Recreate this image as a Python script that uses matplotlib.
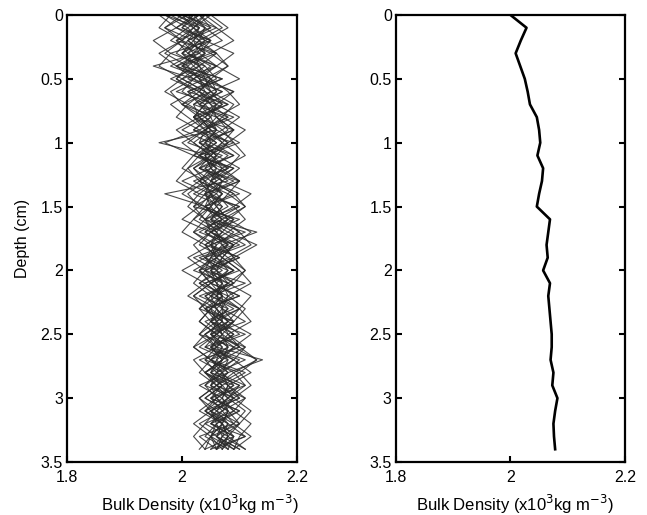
import numpy as np
import matplotlib
matplotlib.use("Agg")
import matplotlib.pyplot as plt

plt.rcParams['font.family'] = ['Liberation Sans', 'DejaVu Sans']

# depth of each sample (cm)
depth = [0.0, 0.1, 0.2, 0.3, 0.4, 0.5, 0.6, 0.7, 0.8, 0.9, 1.0, 1.1, 1.2, 1.3, 1.4,
         1.5, 1.6, 1.7, 1.8, 1.9, 2.0, 2.1, 2.2, 2.3, 2.4, 2.5, 2.6, 2.7, 2.8, 2.9,
         3.0, 3.1, 3.2, 3.3, 3.4]

# individual bulk density profiles (x10^3 kg m^-3)
p01 = [1.97,2.03,2.00,2.05,1.99,2.04,1.99,2.06,2.05,2.02,2.09,2.03,2.08,2.02,2.06,2.08,2.04,2.08,2.04,2.10,2.05,2.09,2.04,2.07,2.11,2.05,2.08,2.04,2.10,2.06,2.11,2.07,2.05,2.09,2.08]
p02 = [2.02,2.00,2.05,1.98,2.04,2.01,2.07,2.02,2.08,2.04,2.01,2.07,2.03,2.09,2.04,2.02,2.10,2.05,2.09,2.03,2.08,2.05,2.10,2.04,2.07,2.10,2.04,2.09,2.05,2.10,2.06,2.09,2.04,2.08,2.06]
p03 = [2.00,2.06,2.01,1.99,2.03,2.00,2.04,2.08,2.03,2.06,2.10,2.04,2.05,2.08,1.97,2.04,2.07,2.03,2.09,2.06,2.02,2.08,2.06,2.03,2.09,2.05,2.11,2.07,2.04,2.08,2.10,2.05,2.08,2.06,2.10]
p04 = [2.04,2.01,1.98,2.03,1.95,2.02,2.05,2.00,2.04,2.07,2.03,2.06,2.02,2.05,2.09,2.04,2.06,2.10,2.05,2.08,2.04,2.06,2.09,2.05,2.08,2.04,2.06,2.14,2.08,2.05,2.09,2.04,2.08,2.11,2.05]
p05 = [1.98,2.02,2.04,2.00,2.06,2.03,2.09,2.04,2.02,2.06,1.96,2.05,2.08,2.03,2.07,2.05,2.03,2.07,2.11,2.05,2.09,2.04,2.07,2.10,2.06,2.09,2.05,2.07,2.04,2.09,2.06,2.03,2.07,2.09,2.04]
p06 = [2.03,2.05,2.01,2.04,2.00,2.07,2.02,2.05,2.08,2.03,2.06,2.02,2.09,2.06,2.03,2.10,2.06,2.04,2.08,2.02,2.06,2.09,2.03,2.08,2.05,2.08,2.10,2.03,2.07,2.05,2.08,2.06,2.10,2.05,2.07]
p07 = [2.00,1.97,2.02,2.03,1.99,2.05,2.03,2.00,2.06,2.09,2.04,2.08,2.05,2.00,2.05,2.09,2.05,2.13,2.07,2.05,2.03,2.07,2.05,2.09,2.04,2.07,2.05,2.09,2.06,2.04,2.09,2.07,2.03,2.06,2.09]
p08 = [2.05,2.02,1.99,2.01,2.05,2.02,2.00,2.04,2.02,2.05,2.08,2.05,2.03,2.07,2.04,2.06,2.08,2.05,2.03,2.07,2.10,2.04,2.07,2.05,2.03,2.06,2.04,2.10,2.07,2.09,2.05,2.10,2.06,2.04,2.08]
p09 = [1.99,2.04,2.02,2.06,2.03,1.98,2.03,2.07,2.04,2.00,2.05,2.09,2.04,2.06,2.02,2.07,2.05,2.09,2.06,2.04,2.07,2.03,2.06,2.08,2.06,2.03,2.09,2.06,2.08,2.03,2.07,2.09,2.06,2.07,2.05]
p10 = [2.01,2.04,2.07,2.02,1.98,2.04,2.06,2.03,2.05,2.02,2.06,2.03,2.06,2.10,2.05,2.04,2.09,2.07,2.04,2.06,2.09,2.05,2.02,2.06,2.08,2.05,2.07,2.05,2.11,2.07,2.04,2.08,2.10,2.07,2.11]
p11 = [2.02,1.99,2.03,2.01,2.04,2.06,2.01,2.03,2.07,2.04,2.07,2.05,2.02,2.04,2.07,2.05,2.02,2.06,2.08,2.04,2.06,2.08,2.04,2.06,2.08,2.06,2.03,2.08,2.04,2.07,2.05,2.07,2.09,2.03,2.06]
p12 = [1.99,2.03,2.01,2.04,2.02,2.05,2.03,2.06,2.04,2.06,2.04,2.06,2.04,2.07,2.05,2.07,2.05,2.07,2.05,2.07,2.06,2.07,2.06,2.07,2.07,2.08,2.06,2.08,2.07,2.08,2.07,2.08,2.07,2.08,2.07]
p13 = [2.03,2.00,2.04,2.02,2.00,2.03,2.05,2.07,2.03,2.05,2.02,2.05,2.07,2.04,2.05,2.03,2.08,2.04,2.07,2.09,2.06,2.03,2.08,2.07,2.09,2.06,2.09,2.07,2.04,2.07,2.04,2.08,2.05,2.09,2.07]
p14 = [2.00,2.02,2.05,2.03,2.06,2.00,2.04,2.01,2.05,2.06,2.04,2.02,2.07,2.05,2.07,2.04,2.07,2.02,2.06,2.05,2.04,2.08,2.05,2.06,2.07,2.04,2.07,2.06,2.05,2.10,2.08,2.05,2.07,2.06,2.08]
p15 = [2.04,2.02,2.00,2.02,2.03,2.05,2.06,2.04,2.06,2.08,2.05,2.03,2.06,2.03,2.08,2.06,2.04,2.05,2.09,2.07,2.05,2.07,2.08,2.06,2.05,2.09,2.06,2.04,2.06,2.08,2.07,2.04,2.07,2.08,2.06]
p16 = [2.01,2.03,2.02,2.00,2.03,2.04,2.05,2.02,2.03,2.05,2.07,2.04,2.05,2.07,2.06,2.02,2.04,2.06,2.07,2.09,2.03,2.05,2.07,2.04,2.06,2.05,2.08,2.05,2.08,2.06,2.08,2.05,2.06,2.05,2.09]
p17 = [2.02,2.04,2.03,2.00,2.02,1.99,2.03,2.05,2.06,2.04,2.03,2.06,2.05,2.03,2.05,2.06,2.08,2.06,2.05,2.06,2.08,2.06,2.07,2.05,2.06,2.07,2.05,2.07,2.06,2.05,2.06,2.08,2.07,2.05,2.06]
p18 = [1.97,2.01,2.03,2.04,2.01,2.03,2.04,2.06,2.02,2.04,2.05,2.04,2.06,2.05,2.04,2.05,2.07,2.05,2.08,2.06,2.05,2.06,2.07,2.07,2.05,2.07,2.08,2.07,2.05,2.07,2.09,2.06,2.08,2.07,2.06]
p19 = [1.96,1.99,1.95,1.98,1.96,2.00,1.97,2.01,1.99,2.03,1.97,2.02,2.00,2.04,2.01,2.03,2.00,2.05,2.02,2.04,2.00,2.04,2.01,2.05,2.03,2.06,2.02,2.05,2.03,2.06,2.03,2.05,2.02,2.05,2.03]
p20 = [2.05,2.08,2.04,2.09,2.06,2.10,2.05,2.09,2.07,2.11,2.08,2.06,2.10,2.07,2.12,2.09,2.11,2.08,2.13,2.09,2.11,2.08,2.12,2.10,2.08,2.12,2.09,2.13,2.10,2.12,2.09,2.12,2.10,2.08,2.11]
p21 = [1.98,1.96,2.00,1.97,2.01,1.99,2.02,1.98,2.01,2.04,2.00,2.03,2.01,1.99,2.03,2.01,2.04,2.02,2.05,2.01,2.04,2.02,2.05,2.03,2.05,2.03,2.06,2.02,2.04,2.06,2.03,2.06,2.04,2.02,2.04]
p22 = [2.03,2.06,2.09,2.05,2.08,2.04,2.09,2.06,2.10,2.07,2.09,2.11,2.07,2.10,2.08,2.11,2.07,2.10,2.12,2.08,2.11,2.09,2.06,2.10,2.12,2.08,2.11,2.09,2.12,2.08,2.11,2.09,2.12,2.10,2.09]
p23 = [2.01,1.97,2.00,1.96,1.99,2.02,1.98,2.00,2.03,1.99,2.02,2.05,2.01,2.03,2.00,2.04,2.02,2.00,2.04,2.06,2.03,2.05,2.02,2.04,2.07,2.04,2.02,2.05,2.07,2.04,2.06,2.04,2.07,2.05,2.04]
p24 = [2.04,2.07,2.03,2.06,2.08,2.05,2.08,2.10,2.06,2.09,2.07,2.10,2.08,2.05,2.09,2.11,2.08,2.12,2.09,2.07,2.10,2.12,2.08,2.11,2.09,2.07,2.10,2.13,2.09,2.11,2.08,2.11,2.09,2.12,2.09]
p25 = [2.00,2.05,1.99,2.06,2.00,2.07,2.01,2.08,2.02,2.09,2.03,2.09,2.03,2.10,2.04,2.10,2.04,2.11,2.05,2.10,2.04,2.11,2.05,2.10,2.05,2.11,2.05,2.11,2.06,2.11,2.05,2.10,2.05,2.11,2.06]
p26 = [2.03,1.99,2.05,2.01,2.06,2.02,2.07,2.03,2.09,2.04,2.08,2.03,2.09,2.05,2.10,2.04,2.09,2.05,2.10,2.04,2.09,2.05,2.10,2.04,2.09,2.06,2.10,2.05,2.09,2.06,2.10,2.05,2.09,2.06,2.10]
profiles = [p01, p02, p03, p04, p05, p06, p07, p08, p09, p10, p11, p12, p13,
            p14, p15, p16, p17, p18, p19, p20, p21, p22, p23, p24, p25, p26]

# mean profile
mean_density = [2.000, 2.028, 2.018, 2.009, 2.017, 2.025, 2.030, 2.034, 2.046, 2.050,
                2.052, 2.047, 2.057, 2.055, 2.050, 2.046, 2.069, 2.066, 2.063, 2.065,
                2.057, 2.069, 2.066, 2.068, 2.070, 2.072, 2.072, 2.070, 2.075, 2.073,
                2.082, 2.078, 2.075, 2.076, 2.078]

yticks = [0, 0.5, 1, 1.5, 2, 2.5, 3, 3.5]
yticklabels = ['0', '0.5', '1', '1.5', '2', '2.5', '3', '3.5']
xticks = [1.8, 2, 2.2]
xticklabels = ['1.8', '2', '2.2']


def style_axis(ax, xlab_x):
    ax.set_xlim(1.8, 2.2)
    ax.set_ylim(3.5, 0)
    ax.set_yticks(yticks)
    ax.set_yticklabels(yticklabels)
    ax.set_xticks(xticks)
    ax.set_xticklabels(xticklabels)
    ax.tick_params(direction='in', length=4, width=1.5, labelsize=11.5,
                   left=True, right=True, top=False, bottom=True)
    ax.tick_params(axis='x', pad=6)
    ax.tick_params(axis='y', pad=3)
    for s in ax.spines.values():
        s.set_linewidth(1.6)
    ax.set_xlabel('Bulk Density (x10$^3$kg m$^{-3}$)', fontsize=12)
    ax.xaxis.set_label_coords(xlab_x, -0.068)


fig = plt.figure(figsize=(6.47, 5.15), dpi=100)
ax1 = fig.add_axes([0.1036, 0.1029, 0.3555, 0.868])
ax2 = fig.add_axes([0.612, 0.1029, 0.354, 0.868])

for p in profiles:
    ax1.plot(p, depth, color='#2a2a2a', lw=0.8, alpha=0.85)
style_axis(ax1, 0.578)
ax1.set_ylabel('Depth (cm)', fontsize=11.5)
ax1.yaxis.set_label_coords(-0.162, 0.5)

ax2.plot(mean_density, depth, color='black', lw=1.9)
style_axis(ax2, 0.52)

fig.savefig('out.png', dpi=100)
